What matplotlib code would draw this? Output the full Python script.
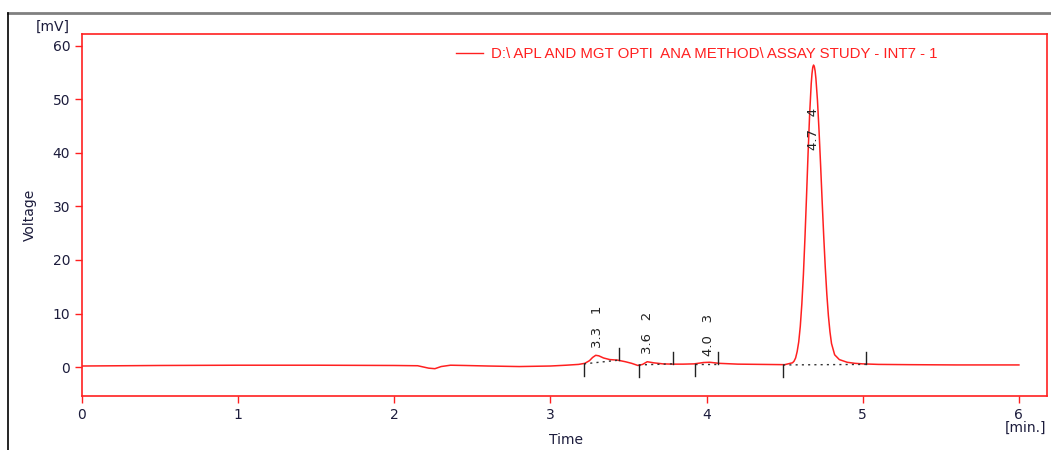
import numpy as np
import matplotlib
matplotlib.use("Agg")
import matplotlib.pyplot as plt
from matplotlib.lines import Line2D

# chromatogram trace (time in min, signal in mV)
time = [0.0, 0.5, 1.0, 1.5, 2.0, 2.15, 2.22, 2.26, 2.30, 2.36, 2.45, 2.6, 2.8, 3.0,
        3.1, 3.18, 3.22, 3.25, 3.27, 3.29, 3.31, 3.34, 3.38, 3.43, 3.48, 3.52, 3.56,
        3.59, 3.62, 3.66, 3.72, 3.78, 3.85, 3.92, 3.98, 4.02, 4.08, 4.2, 4.35, 4.5,
        4.55, 4.56, 4.57, 4.58, 4.59, 4.60, 4.61, 4.62, 4.63, 4.64, 4.65, 4.66, 4.67,
        4.675, 4.68, 4.685, 4.69, 4.695, 4.70, 4.71, 4.72, 4.73, 4.74, 4.75, 4.76,
        4.77, 4.78, 4.79, 4.80, 4.82, 4.85, 4.90, 4.95, 5.0, 5.1, 5.3, 5.6, 6.0]
signal = [0.2, 0.3, 0.35, 0.35, 0.3, 0.25, -0.2, -0.3, 0.1, 0.35, 0.3, 0.2, 0.1, 0.2,
          0.35, 0.5, 0.7, 1.2, 1.8, 2.2, 2.1, 1.7, 1.4, 1.3, 1.0, 0.7, 0.3,
          0.5, 1.0, 0.8, 0.6, 0.55, 0.55, 0.6, 0.85, 0.9, 0.7, 0.55, 0.5, 0.45,
          0.8, 1.1, 1.7, 2.9, 4.7, 7.6, 11.8, 17.3, 24.2, 31.9, 40.0, 47.3, 52.9,
          54.8, 56.0, 56.4, 56.1, 55.3, 53.9, 49.8, 44.2, 37.8, 31.0, 24.5, 18.6,
          13.6, 9.6, 6.6, 4.4, 2.3, 1.4, 0.9, 0.7, 0.6, 0.5, 0.45, 0.4, 0.4]

# integration marks: (start, end) times and the baseline level at each end
peak_start = [3.215, 3.565, 3.925, 4.49]
peak_end = [3.44, 3.785, 4.075, 5.02]
base_start = [0.6, 0.4, 0.6, 0.4]
base_end = [1.3, 0.6, 0.6, 0.5]

# peak labels
label_time = [3.30, 3.62, 4.01, 4.685]
label_level = [3.6, 2.4, 2.0, 40.5]
label_text = ["3.3   1", "3.6   2", "4.0   3", "4.7   4"]

legend_label = r"D:\ APL AND MGT OPTI  ANA METHOD\ ASSAY STUDY - INT7 - 1"

red = "#ff2020"
navy = "#1c1c3c"

fig = plt.figure(figsize=(10.51, 4.5), dpi=100)
ax = fig.add_axes([82 / 1051, 54 / 450, 965 / 1051, 362 / 450])

ax.plot(time, signal, color=red, lw=1.1)

for s, e, bs, be in zip(peak_start, peak_end, base_start, base_end):
    ax.plot([s, e], [bs, be], color="#333333", lw=1, ls=(0, (1.5, 3)))
    ax.plot([s, s], [bs - 2.3, bs], color="#222222", lw=1)
    ax.plot([e, e], [be, be + 2.3], color="#222222", lw=1)

for t, lv, txt in zip(label_time, label_level, label_text):
    ax.text(t, lv, txt, rotation=90, ha="center", va="bottom", fontsize=9.5,
            color="#222222")

ax.set_xlim(0, 6.18)
ax.set_ylim(-5.4, 62.2)
ax.set_xticks(range(0, 7))
ax.set_yticks(range(0, 61, 10))
for sp in ax.spines.values():
    sp.set_color(red)
    sp.set_linewidth(1.2)
ax.tick_params(colors=red, labelcolor=navy, labelsize=10, length=5, width=1)

ax.text(-0.03, 1.0, "[mV]", transform=ax.transAxes, ha="center", va="bottom",
        fontsize=10, color=navy)
fig.text(1025 / 1051, 1 - 428 / 450, "[min.]", ha="center", va="center",
         fontsize=10, color=navy)
fig.text(566 / 1051, 1 - 440 / 450, "Time", ha="center", va="center",
         fontsize=10, color=navy)
fig.text(30 / 1051, 1 - 215 / 450, "Voltage", ha="center", va="center",
         rotation=90, fontsize=10, color=navy)

handle = Line2D([], [], color=red, lw=1)
leg = ax.legend([handle], [legend_label], loc="center left",
                bbox_to_anchor=(0.3876, 0.945), frameon=False, borderpad=0,
                borderaxespad=0, handlelength=1.8, handletextpad=0.5,
                prop={"family": "Liberation Sans", "size": 10.8})
for txt in leg.get_texts():
    txt.set_color(red)

# outer frame of the report page
fig.add_artist(Line2D([8 / 1051, 1], [1 - 13 / 450, 1 - 13 / 450],
                      transform=fig.transFigure, color="#808080", lw=2))
fig.add_artist(Line2D([8 / 1051, 8 / 1051], [0, 1 - 13 / 450],
                      transform=fig.transFigure, color="black", lw=1.2))

fig.savefig("out.png", dpi=100)
